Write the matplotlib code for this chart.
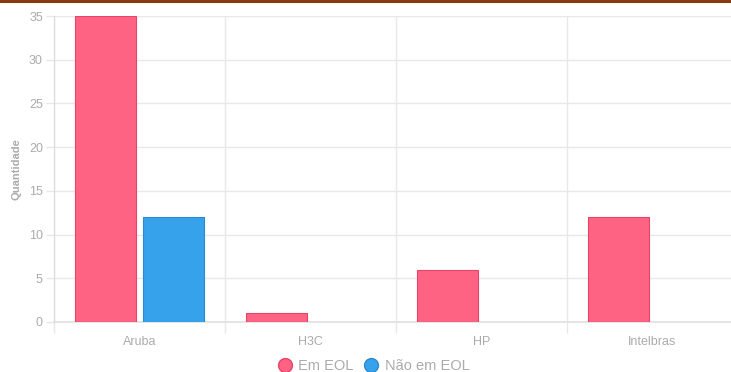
import matplotlib
matplotlib.use("Agg")
import matplotlib.pyplot as plt
from matplotlib.lines import Line2D
import numpy as np

categories = ["Aruba", "H3C", "HP", "Intelbras"]
em_eol = [35, 1, 6, 12]
nao_em_eol = [12, 0, 0, 0]
yticks = [0, 5, 10, 15, 20, 25, 30, 35]

plt.rcParams['font.family'] = ['Liberation Sans', 'DejaVu Sans']
W, H = 731, 372
fig = plt.figure(figsize=(W/100, H/100), dpi=100)
left, right, top, bottom = 54, 738, 16, 322
ax = fig.add_axes([left/W, 1-bottom/H, (right-left)/W, (bottom-top)/H])

pink = "#FF6384"; pink_edge = "#E8436A"
blue = "#36A2EB"; blue_edge = "#2A8BD0"
x = np.arange(len(categories))
w = 0.355
ax.bar(x-0.2, em_eol, w, color=pink, edgecolor=pink_edge, linewidth=0.8, zorder=3)
nz = [v if v > 0 else np.nan for v in nao_em_eol]
ax.bar(x+0.2, nz, w, color=blue, edgecolor=blue_edge, linewidth=0.8, zorder=3)

ax.set_xlim(-0.5, len(categories)-0.5)
ax.set_ylim(0, 35)
ax.set_yticks(yticks)
ax.set_xticks(x)
ax.set_xticklabels(categories)
ax.set_xticks(np.arange(-0.5, len(categories), 1), minor=True)
grid_c = "#E8E8E8"
ax.grid(True, axis='y', color=grid_c, linewidth=1, zorder=0)
ax.grid(True, axis='x', which='minor', color=grid_c, linewidth=1, zorder=0)
ax.tick_params(axis='x', which='major', length=0, pad=10, labelsize=9, labelcolor="#ABABAB")
ax.tick_params(axis='x', which='minor', length=8, color=grid_c, width=1)
ax.tick_params(axis='y', length=6, color=grid_c, width=1, pad=2, labelsize=9, labelcolor="#ABABAB")
for s in ['top', 'right']:
    ax.spines[s].set_visible(False)
ax.spines['left'].set_color("#D9D9D9")
ax.spines['bottom'].set_color("#E0E0E0")
ax.spines['bottom'].set_linewidth(1.2)
ax.set_ylabel("Quantidade", color="#ABABAB", fontsize=8, fontweight='bold', labelpad=5)

handles = [Line2D([], [], marker='o', linestyle='', markersize=10, markerfacecolor=pink, markeredgecolor=pink_edge),
           Line2D([], [], marker='o', linestyle='', markersize=10, markerfacecolor=blue, markeredgecolor=blue_edge)]
leg = fig.legend(handles, ["Em EOL", "Não em EOL"], loc='center', bbox_to_anchor=(373/W, 1-366/H),
                 ncol=2, frameon=False, fontsize=10.5, handletextpad=0.35, columnspacing=0.7, handlelength=1.1)
for t in leg.get_texts():
    t.set_color("#ABABAB")

fig.add_artist(Line2D([0, 1], [1-1/H, 1-1/H], transform=fig.transFigure, color="#8B3A0F", linewidth=2.2))

fig.savefig("out.png", dpi=100)
